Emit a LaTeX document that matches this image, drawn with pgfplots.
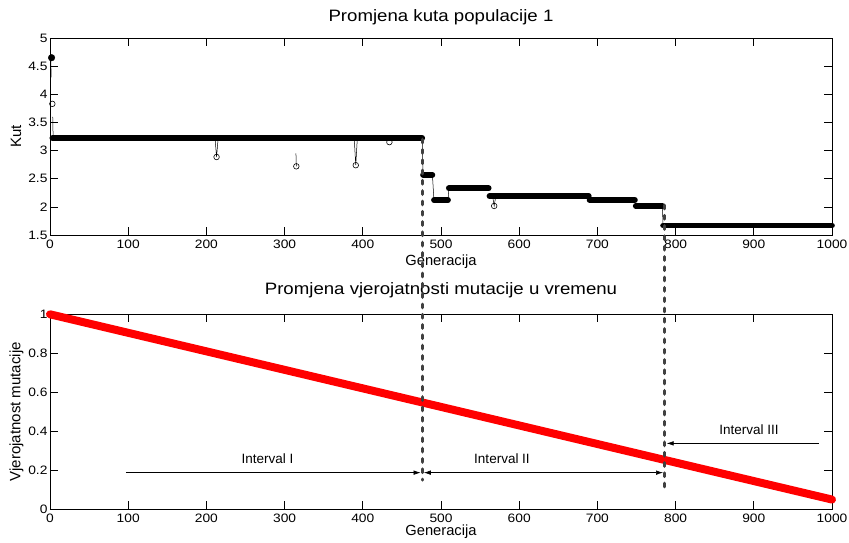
\documentclass[border=0pt]{standalone}
\usepackage{fontspec}
\setmainfont{Liberation Sans}
\newfontfamily\wide[FakeStretch=1.13]{Liberation Sans}
\usepackage{pgfplots}
\pgfplotsset{compat=1.18}
\usetikzlibrary{arrows.meta}
\definecolor{dashgray}{RGB}{64,64,64}
\definecolor{mred}{RGB}{255,0,0}
\pgfplotsset{mystyle/.style={
  scale only axis, width=782pt,
  xmin=0, xmax=1000, xtick={0,100,200,300,400,500,600,700,800,900,1000},
  tick align=inside, major tick length=8pt,
  axis line style={line width=0.9pt},
  tick style={black, line width=0.7pt},
  tick label style={font=\wide\fontsize{12.2}{14}\selectfont},
  /pgf/number format/assume math mode=true,
  /pgf/number format/1000 sep={},
  clip=false,
  xticklabel style={yshift=-1pt},
  yticklabel style={xshift=1pt},
  ylabel style={font=\fontsize{15}{17}\selectfont, anchor=center},
  xlabel style={font=\fontsize{14.7}{17}\selectfont, anchor=center},
  title style={font=\wide\fontsize{16.5}{18}\selectfont, anchor=center},
}}
\begin{document}
\begin{tikzpicture}
\path[use as bounding box] (0,0) rectangle (849pt,542pt);
% ---------- top axis ----------
\begin{axis}[mystyle, at={(50pt,307pt)}, anchor=south west, height=197pt,
  ymin=1.5, ymax=5, ytick={1.5,2,2.5,3,3.5,4,4.5,5},
  title={Promjena kuta populacije 1},
  title style={at={(axis description cs:0.5,1.075)}},
  xlabel={Generacija},
  xlabel style={at={(axis description cs:0.5,-0.1345)}},
  ylabel={Kut},
  ylabel style={at={(axis description cs:-0.0435,0.5)}},
]
% thin connecting line
\addplot[black, line width=0.5pt] coordinates {(1,4.65)(1.5,4.3)};
\addplot[black, line width=0.5pt] coordinates {(3.5,3.6)(4,3.22)};
\addplot[black, line width=0.5pt] coordinates {(211,3.22)(213,2.886)(215,3.22)};
\addplot[black, line width=0.5pt] coordinates {(314.5,2.95)(315,2.72)};
\addplot[black, line width=0.5pt] coordinates {(389,3.22)(391,2.74)(393,3.22)};
\addplot[black, line width=0.5pt] coordinates {(489,2.57)(491,2.12)};
\addplot[black, line width=0.5pt] coordinates {(509,2.12)(510,2.33)};
\addplot[black, line width=0.5pt] coordinates {(566,2.19)(568,2.016)(570,2.19)};
\addplot[black, line width=0.5pt] coordinates {(476,3.22)(477,2.57)};
\addplot[black, line width=0.5pt] coordinates {(783,2.02)(784,1.67)};
% outliers
\addplot[only marks, mark=o, mark size=2.8pt, mark options={fill=white, line width=0.6pt}]
  coordinates {(3,3.83)(213,2.886)(315,2.72)(391,2.74)(434,3.15)(568,2.016)};
\addplot[only marks, mark=*, mark size=3.3pt, black] coordinates {(2,4.65)};
% plateaus
\addplot[black, line width=5.7pt, line cap=round] coordinates {(3,3.22)(476,3.22)};
\addplot[black, line width=5.7pt, line cap=round] coordinates {(477,2.57)(489,2.57)};
\addplot[black, line width=5.7pt, line cap=round] coordinates {(491,2.12)(509,2.12)};
\addplot[black, line width=5.7pt, line cap=round] coordinates {(510,2.33)(561,2.33)};
\addplot[black, line width=5.7pt, line cap=round] coordinates {(562,2.19)(689,2.19)};
\addplot[black, line width=5.7pt, line cap=round] coordinates {(690,2.12)(748,2.12)};
\addplot[black, line width=5.7pt, line cap=round] coordinates {(749,2.02)(783,2.02)};
\addplot[black, line width=5.7pt, line cap=round] coordinates {(784,1.67)(1000,1.67)};
\coordinate (d1t) at (axis cs:476.5,3.20);
\coordinate (d2t) at (axis cs:785.5,2.03);
\end{axis}
% ---------- bottom axis ----------
\begin{axis}[mystyle, at={(50pt,32.7pt)}, anchor=south west, height=195pt,
  ymin=0, ymax=1, ytick={0,0.2,0.4,0.6,0.8,1},
  title={Promjena vjerojatnosti mutacije u vremenu},
  title style={at={(axis description cs:0.5,1.092)}},
  xlabel={Generacija},
  xlabel style={at={(axis description cs:0.5,-0.116)}},
  ylabel={Vjerojatnost mutacije},
  ylabel style={at={(axis description cs:-0.043,0.5)}},
]
\addplot[mred, line width=8pt, line cap=round] coordinates {(0,1)(476,0.548)(785,0.254)(1000,0.05)};
\draw[-{Latex[length=7pt,width=4.5pt]}, line width=0.6pt] (axis cs:97,0.188) -- (axis cs:474,0.188);
\draw[{Latex[length=7pt,width=4.5pt]}-{Latex[length=7pt,width=4.5pt]}, line width=0.6pt] (axis cs:478,0.188) -- (axis cs:784,0.188);
\draw[-{Latex[length=7pt,width=4.5pt]}, line width=0.6pt] (axis cs:983,0.338) -- (axis cs:788.5,0.338);
\node[font=\fontsize{13.5}{15}\selectfont] at (axis cs:278,0.262) {Interval I};
\node[font=\fontsize{13.5}{15}\selectfont] at (axis cs:578,0.262) {Interval II};
\node[font=\fontsize{13.5}{15}\selectfont] at (axis cs:894,0.407) {Interval III};
\coordinate (d1b) at (axis cs:476.5,0.15);
\coordinate (d2b) at (axis cs:785.5,0.09);
\end{axis}
\draw[dashgray, line width=3.2pt, dash pattern=on 3.6pt off 6.7pt, line cap=round] (d1t) -- (d1b);
\draw[dashgray, line width=3.2pt, dash pattern=on 3.6pt off 6.7pt, line cap=round] (d2t) -- (d2b);
\end{tikzpicture}
\end{document}
